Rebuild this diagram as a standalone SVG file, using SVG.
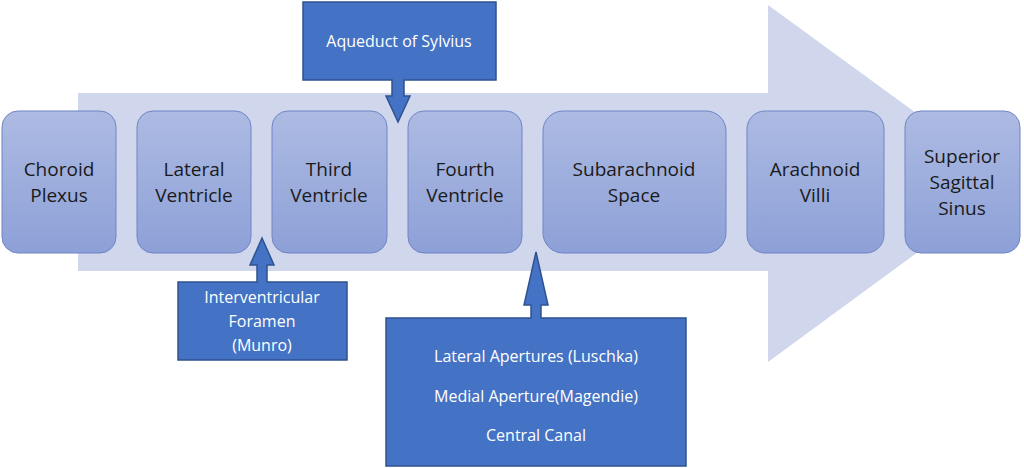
<svg xmlns="http://www.w3.org/2000/svg" width="1024" height="468" viewBox="0 0 1024 468">
<defs>
<linearGradient id="g" x1="0" y1="0" x2="0" y2="1"><stop offset="0" stop-color="#adbbe3"/><stop offset="1" stop-color="#8da0d7"/></linearGradient>
<style>
.n{fill:url(#g);stroke:#6f84c4;stroke-width:1}
.t{font-family:"Open Sans","Liberation Sans",sans-serif;font-size:19px;fill:#1a1a1a;text-anchor:middle}
.c{fill:#4472c4;stroke:#2f528f;stroke-width:1.5}
.w{font-family:"Open Sans","Liberation Sans",sans-serif;font-size:16px;fill:#fff;text-anchor:middle}
</style>
</defs>
<rect width="1024" height="468" fill="#fff"/>
<polygon points="78,93 768,93 768,5 1012,183 768,362 768,271 78,271" fill="#d0d7ed"/>
<g id="nodes">
<g id="n1"><rect class="n" x="2" y="111" width="114" height="142" rx="16"/><text class="t" x="59" y="176">Choroid</text><text class="t" x="59" y="202">Plexus</text></g>
<g id="n2"><rect class="n" x="137" y="111" width="114" height="142" rx="16"/><text class="t" x="194" y="176">Lateral</text><text class="t" x="194" y="202">Ventricle</text></g>
<g id="n3"><rect class="n" x="272" y="111" width="115" height="142" rx="16"/><text class="t" x="329" y="176">Third</text><text class="t" x="329" y="202">Ventricle</text></g>
<g id="n4"><rect class="n" x="408" y="111" width="114" height="142" rx="16"/><text class="t" x="465" y="176">Fourth</text><text class="t" x="465" y="202">Ventricle</text></g>
<g id="n5"><rect class="n" x="543" y="111" width="183" height="142" rx="20"/><text class="t" x="634" y="176">Subarachnoid</text><text class="t" x="634" y="202">Space</text></g>
<g id="n6"><rect class="n" x="747" y="111" width="137" height="142" rx="18"/><text class="t" x="815" y="176">Arachnoid</text><text class="t" x="815" y="202">Villi</text></g>
<g id="n7"><rect class="n" x="905" y="111" width="115" height="142" rx="16"/><text class="t" x="962" y="163">Superior</text><text class="t" x="962" y="189">Sagittal</text><text class="t" x="962" y="215">Sinus</text></g>
</g>
<g id="connectors">
<g id="c1"><path class="c" d="M303,2 H496 V80 H404 V96 H410 L398,122 L386,96 H392 V80 H303 Z"/><text class="w" x="399" y="47">Aqueduct of Sylvius</text></g>
<g id="c2"><path class="c" d="M178,282 H257 V265 H250 L262,238 L274,265 H267 V282 H347 V360 H178 Z"/><text class="w" x="262" y="303">Interventricular</text><text class="w" x="262" y="327">Foramen</text><text class="w" x="262" y="351">(Munro)</text></g>
<g id="c3"><path class="c" d="M386,318 H531 V305 H524 L536,252 L548,305 H541 V318 H686 V466 H386 Z"/><text class="w" x="536" y="362">Lateral Apertures (Luschka)</text><text class="w" x="536" y="402">Medial Aperture(Magendie)</text><text class="w" x="536" y="441">Central Canal</text></g>
</g>
</svg>
